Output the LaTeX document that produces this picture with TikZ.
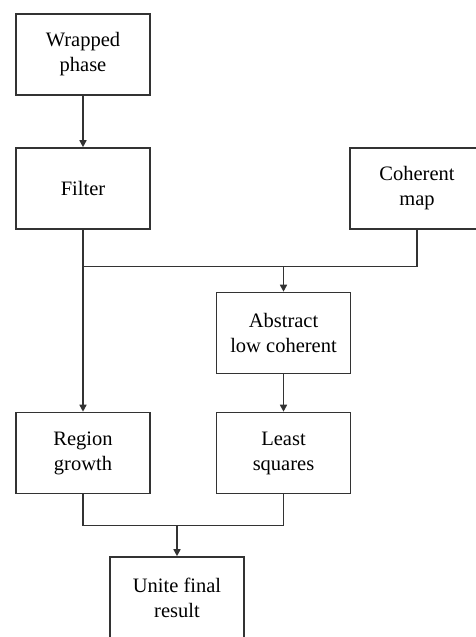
\documentclass[tikz,border=0pt]{standalone}
\usepackage{fontspec}
\setmainfont{Liberation Serif}
\usetikzlibrary{arrows.meta}
\begin{document}
\begin{tikzpicture}[x=1pt,y=-1pt,
  box/.style={draw=black!80, line width=1.6pt, minimum width=134pt, minimum height=81pt, inner sep=0pt, align=center, font=\fontsize{20.5}{25}\selectfont, text=black},
  conn/.style={draw=black!80, line width=1.6pt},
  arr/.style={conn, -{Triangle[length=7pt,width=7pt]}}]
\useasboundingbox (0,0) rectangle (476,637);
\clip (0,0) rectangle (476,637);
\node[box] (wp) at (83,54.5) {Wrapped\\phase};
\node[box] (fi) at (83,188.5) {Filter};
\node[box] (cm) at (417,188.5) {Coherent\\map};
\node[box] (ab) at (283.5,333) {Abstract\\low coherent};
\node[box] (rg) at (83,453) {Region\\growth};
\node[box] (ls) at (283.5,453) {Least\\squares};
\node[box] (uf) at (177,597.5) {Unite final\\result};
\coordinate (j1) at (283.5,266.5);
\coordinate (j2) at (177,525.5);
\draw[arr] (wp) -- (fi);
\draw[arr] (fi) -- (rg);
\draw[conn] (cm.south) |- (fi.south |- j1);
\draw[arr] (j1) -- (ab);
\draw[arr] (ab) -- (ls);
\draw[conn] (rg.south) |- (j2) -| (ls.south);
\draw[arr] (j2) -- (uf);
\end{tikzpicture}
\end{document}
